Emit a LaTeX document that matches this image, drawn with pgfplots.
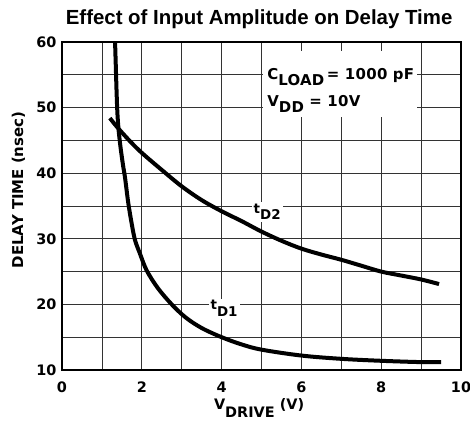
\documentclass[border=0pt]{standalone}
\usepackage{fontspec}
\setmainfont{DejaVu Sans}
\newfontfamily\titlefont{Liberation Sans}
\usepackage{pgfplots}
\pgfplotsset{compat=1.18}
\begin{document}
\begin{tikzpicture}
\begin{axis}[
  scale only axis, width=399bp, height=328bp,
  xmin=0, xmax=10, ymin=10, ymax=60,
  xtick={0,2,4,6,8,10}, minor xtick={1,3,5,7,9},
  ytick={10,20,30,40,50,60}, minor ytick={15,25,35,45,55},
  grid=both,
  major grid style={black!80, line width=0.6bp},
  minor grid style={black!80, line width=0.6bp},
  major tick length=0pt, minor tick length=0pt,
  axis line style={line width=2.4bp},
  /pgf/number format/assume math mode=true,
  ticklabel style={font=\fontsize{14.5}{14.5}\selectfont\bfseries},
  xticklabel style={yshift=-8bp},
  yticklabel style={xshift=-2bp},
  clip=false,
]
\addplot[black, line width=4bp, smooth, tension=0.55] coordinates {
(1.33,60) (1.35,56) (1.37,52) (1.39,49) (1.42,46.5) (1.47,43.8) (1.53,41.2) (1.58,39.3)
(1.66,35.5) (1.75,32.2) (1.83,29.8) (1.95,27.8) (2.12,25.2) (2.4,22.5) (2.75,20)
(3.1,18) (3.5,16.4) (4,15) (4.5,13.9) (5,13.1) (6,12.2) (7,11.7) (8,11.4) (9,11.2) (9.5,11.2)
};
\addplot[black, line width=4bp, smooth, tension=0.55] coordinates {
(1.2,48.4) (1.4,46.9) (1.7,44.9) (2,43.1) (2.5,40.5) (3,38) (3.5,35.9) (4,34.2)
(4.5,32.7) (5,31.1) (5.5,29.7) (6,28.5) (6.5,27.6) (7,26.8) (7.5,25.9) (8,25.0)
(8.5,24.4) (9,23.8) (9.45,23.1)
};
\fill[white] (axis cs:5.05,58.6) rectangle (axis cs:8.9,48.6);
\node[anchor=base west, inner sep=0pt, font=\fontsize{15}{15}\selectfont\bfseries\addfontfeatures{LetterSpace=2}]
  at (axis cs:5.14,54.3) {C\raisebox{-0.4em}{LOAD}\,= 1000 pF};
\node[anchor=base west, inner sep=0pt, font=\fontsize{15}{15}\selectfont\bfseries\addfontfeatures{LetterSpace=2}]
  at (axis cs:5.14,50.1) {V\raisebox{-0.4em}{DD} = 10V};
\node[anchor=base west, fill=white, inner sep=2bp, font=\fontsize{13.5}{13.5}\selectfont\bfseries]
  at (axis cs:4.75,33.9) {t\raisebox{-0.5em}{D2}};
\node[anchor=base west, fill=white, inner sep=2bp, font=\fontsize{13.5}{13.5}\selectfont\bfseries]
  at (axis cs:3.67,19.15) {t\raisebox{-0.5em}{D1}};
\node[anchor=base, font=\fontsize{20.5}{20.5}\titlefont\bfseries, yshift=17bp]
  at (rel axis cs:0.494,1) {Effect of Input Amplitude on Delay Time};
\node[anchor=base, font=\fontsize{14.5}{14.5}\selectfont\bfseries, yshift=-40bp]
  at (rel axis cs:0.494,0) {V\raisebox{-0.55em}{DRIVE} (V)};
\end{axis}
\node[anchor=base, rotate=90, font=\fontsize{15}{15}\selectfont\bfseries]
  at ([xshift=-39bp,yshift=180bp]current axis.south west) {DELAY TIME (nsec)};
\pgfresetboundingbox
\path (current axis.south west) ++(-62bp,-57bp) rectangle ([xshift=9bp,yshift=42bp]current axis.north east);
\end{tikzpicture}
\end{document}
